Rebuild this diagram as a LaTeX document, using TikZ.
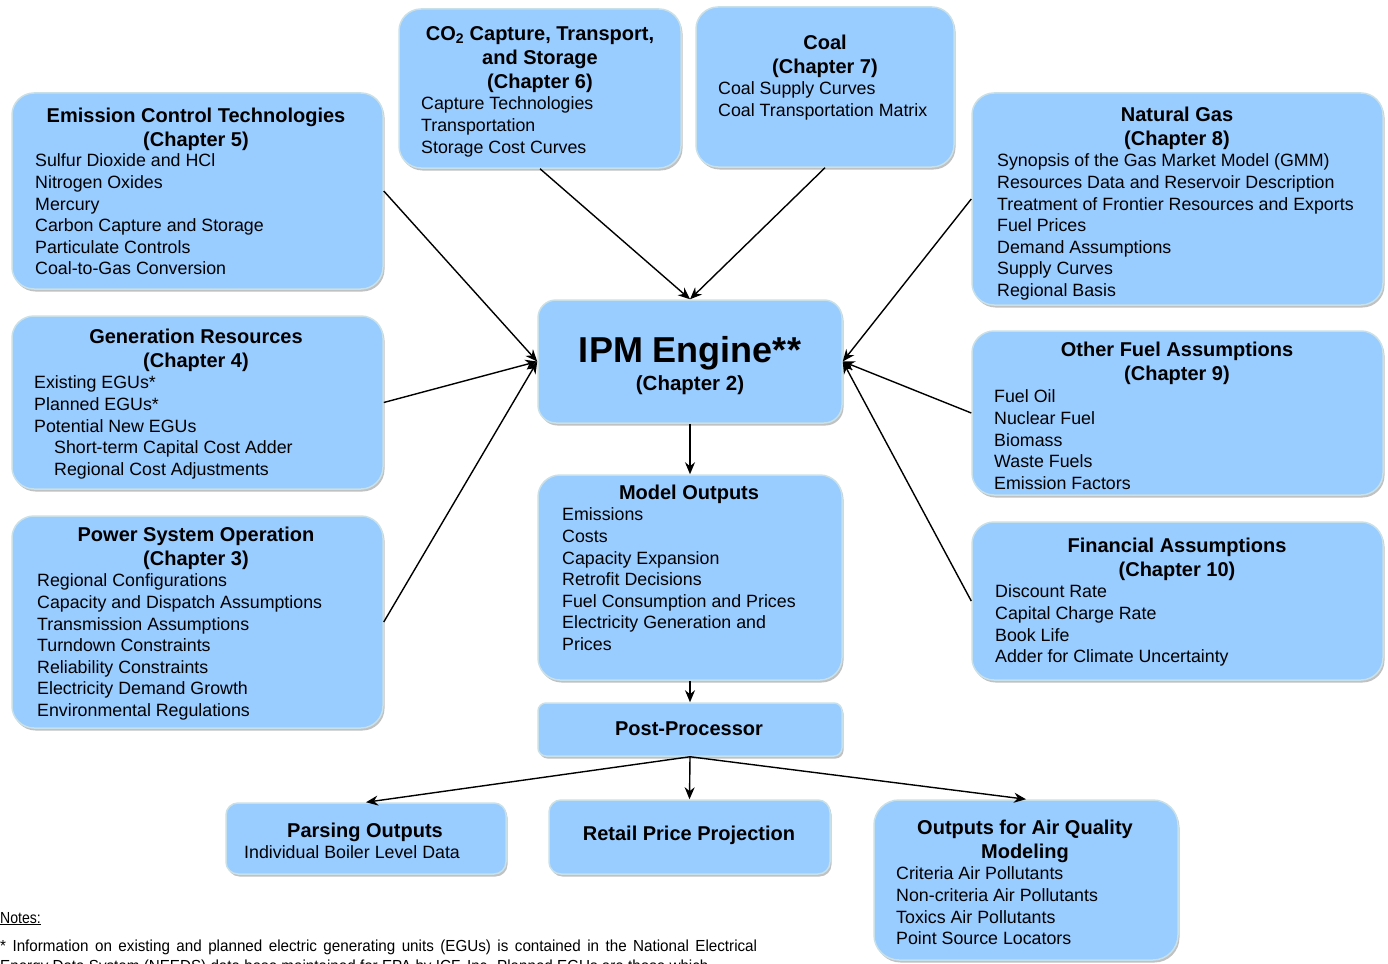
\documentclass[tikz,border=0pt]{standalone}
\usepackage{fontspec}
\setmainfont{Liberation Sans}
\newfontfamily\notefont[FakeStretch=0.88]{Liberation Sans}
\newfontfamily\fnfont[FakeStretch=0.95]{Liberation Sans}
\usetikzlibrary{arrows.meta,shadows}
\definecolor{boxfill}{RGB}{153,204,255}
\definecolor{boxline}{RGB}{200,224,232}
\tikzset{
 box/.style={draw=boxline, line width=1.5pt, fill=boxfill, inner sep=0pt,
   drop shadow={shadow xshift=1.5pt, shadow yshift=-2.5pt, opacity=0.35, fill=black!70}},
 head/.style={font=\fontsize{20}{24}\selectfont\bfseries, align=center, inner sep=0pt, anchor=north, yshift=-2.5pt, execute at begin node=\strut},
 headb/.style={font=\fontsize{20}{24}\selectfont\bfseries, inner sep=0pt, anchor=base},
 body/.style={font=\fontsize{17.8}{21.6}\selectfont, align=left, inner sep=0pt, anchor=north west, yshift=-2.5pt, execute at begin node=\strut},
 bodyb/.style={font=\fontsize{17.8}{21.6}\selectfont, inner sep=0pt, anchor=base west},
 arr/.style={line width=1.4pt, -{Stealth[length=12pt,width=10pt]}},
 notes/.style={font=\notefont\fontsize{16}{20}\selectfont, inner sep=0pt, anchor=base west},
 fn/.style={font=\fnfont\fontsize{16}{20}\selectfont, inner sep=0pt, anchor=base west},
}
\newcommand\mybox[6][22pt]{\node[box, rounded corners=#1, minimum width={(#5-#3)*1pt}, minimum height={(#6-#4)*1pt}] (#2) at ({(#3+#5)/2},{(#4+#6)/2}) {};}
\begin{document}
\begin{tikzpicture}[x=1pt,y=-1pt]
\useasboundingbox (0,0) rectangle (1388,963);
% boxes
\mybox{emis}{12}{93}{383}{289}
\mybox{co2}{399}{9}{681}{168}
\mybox{coal}{696}{7}{954}{167}
\mybox{ng}{972}{93}{1383}{305}
\mybox{gen}{12}{316}{383}{489}
\mybox{pso}{12}{516}{383}{728}
\mybox[18pt]{ipm}{538}{300}{842}{423}
\mybox{ofa}{972}{331}{1383}{495}
\mybox{fin}{972}{522}{1383}{680}
\mybox{mo}{538}{475}{842}{680}
\mybox[8pt]{pp}{538}{703}{842}{756}
\mybox[12pt]{parse}{226}{803}{506}{874}
\mybox[12pt]{retail}{549}{800}{830}{874}
\mybox[25pt]{aq}{874}{800}{1178}{960}
% texts
\node[head] (emisH) at (196,105.2) {Emission Control Technologies\\(Chapter 5)};
\node[body] (emisB) at (35,151.3) {Sulfur Dioxide and HCl\\Nitrogen Oxides\\Mercury\\Carbon Capture and Storage\\Particulate Controls\\Coal-to-Gas Conversion};
\node[head] (co2H) at (540,23.5) {CO\textsubscript{2} Capture, Transport,\\and Storage\\(Chapter 6)};
\node[body] (co2B) at (421,94.3) {Capture Technologies\\Transportation\\Storage Cost Curves};
\node[head] (coalH) at (825,32.5) {Coal\\(Chapter 7)};
\node[body] (coalB) at (718,79.3) {Coal Supply Curves\\Coal Transportation Matrix};
\node[head] (ngH) at (1177,104.5) {Natural Gas\\(Chapter 8)};
\node[body] (ngB) at (997,151.3) {Synopsis of the Gas Market Model (GMM)\\Resources Data and Reservoir Description\\Treatment of Frontier Resources and Exports\\Fuel Prices\\Demand Assumptions\\Supply Curves\\Regional Basis};
\node[head] (genH) at (196,326.5) {Generation Resources\\(Chapter 4)};
\node[body] (genB) at (34,373.3) {Existing EGUs*\\Planned EGUs*\\Potential New EGUs\\\hspace*{20pt}Short-term Capital Cost Adder\\\hspace*{20pt}Regional Cost Adjustments};
\node[head] (psoH) at (196,524.5) {Power System Operation\\(Chapter 3)};
\node[body] (psoB) at (37,571.3) {Regional Configurations\\Capacity and Dispatch Assumptions\\Transmission Assumptions\\Turndown Constraints\\Reliability Constraints\\Electricity Demand Growth\\Environmental Regulations};
\node[font=\fontsize{36}{40}\selectfont\bfseries, anchor=base, inner sep=0pt] (ipmT) at (690,362) {IPM Engine**};
\node[font=\fontsize{20.5}{24}\selectfont\bfseries, anchor=base, inner sep=0pt] (ipmC) at (690,390.5) {(Chapter 2)};
\node[head] (ofaH) at (1177,339.5) {Other Fuel Assumptions\\(Chapter 9)};
\node[body] (ofaB) at (994,387.3) {Fuel Oil\\Nuclear Fuel\\Biomass\\Waste Fuels\\Emission Factors};
\node[head] (finH) at (1177,535.5) {Financial Assumptions\\(Chapter 10)};
\node[body] (finB) at (995,582.3) {Discount Rate\\Capital Charge Rate\\Book Life\\Adder for Climate Uncertainty};
\node[headb] (moH) at (689,499) {Model Outputs};
\node[body] (moB) at (562,505.3) {Emissions\\Costs\\Capacity Expansion\\Retrofit Decisions\\Fuel Consumption and Prices\\Electricity Generation and\\Prices};
\node[headb] (ppH) at (689,735) {Post-Processor};
\node[headb] (parseH) at (365,837) {Parsing Outputs};
\node[bodyb] (parseB) at (244,858.4) {Individual Boiler Level Data};
\node[headb] (retailH) at (689,840) {Retail Price Projection};
\node[head] (aqH) at (1025,817.5) {Outputs for Air Quality\\Modeling};
\node[body] (aqB) at (896,864.3) {Criteria Air Pollutants\\Non-criteria Air Pollutants\\Toxics Air Pollutants\\Point Source Locators};
% connectors
\draw[arr] (emis.east) -- (ipm.west);
\draw[arr] (gen.east) -- (ipm.west);
\draw[arr] (pso.east) -- (ipm.west);
\draw[arr] (ng.west) -- (ipm.east);
\draw[arr] (ofa.west) -- (ipm.east);
\draw[arr] (fin.west) -- (ipm.east);
\draw[arr] (co2.south) -- (ipm.north);
\draw[arr] (coal.south) -- (ipm.north);
\draw[arr] (ipm.south) -- (mo.north);
\draw[arr] (mo.south) -- (pp.north);
\draw[arr] (pp.south) -- (parse.north);
\draw[arr] (pp.south) -- (retail.north);
\draw[arr] (pp.south) -- (aq.north);
% notes
\begin{scope}
\clip (0,0) rectangle (1388,963);
\node[notes] (notesH) at (0,923) {\underline{Notes:}};
\node[fn] (fn1) at (0,951.5) {\hbox to 757pt{* Information on existing and planned electric generating units (EGUs) is contained in the National Electrical}};
\node[fn] (fn2) at (0,971.5) {Energy Data System (NEEDS) data base maintained for EPA by ICF, Inc. Planned EGUs are those which};
\end{scope}
\end{tikzpicture}
\end{document}
